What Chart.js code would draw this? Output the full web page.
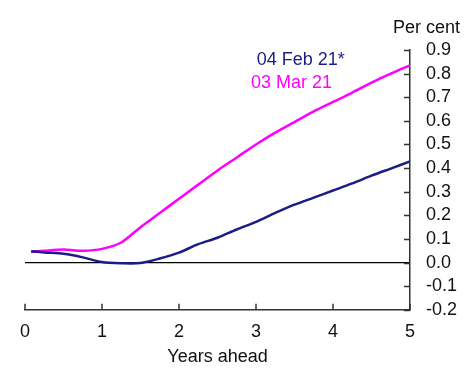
<!DOCTYPE html>
<html>
<head>
<meta charset="utf-8">
<script src="https://cdn.jsdelivr.net/npm/chart.js@4/dist/chart.umd.min.js"></script>
<style>
  html, body { margin: 0; padding: 0; background: #fff; }
  #wrap { width: 465px; height: 369px; }
</style>
</head>
<body>
<div id="wrap"><canvas id="curveChart" width="465" height="369"></canvas></div>
<script>
// anos à frente
const years = [0.08, 0.25, 0.5, 0.75, 1.0, 1.25, 1.5, 1.75, 2.0, 2.25, 2.5, 2.75, 3.0, 3.25, 3.5, 3.75, 4.0, 4.25, 4.5, 4.75, 5.0];
const feb21 = [0.048, 0.043, 0.037, 0.022, 0.002, -0.003, -0.002, 0.017, 0.042, 0.078, 0.105, 0.14, 0.172, 0.21, 0.245, 0.275, 0.305, 0.335, 0.368, 0.398, 0.428];
const mar21 = [0.045, 0.05, 0.055, 0.05, 0.058, 0.085, 0.15, 0.21, 0.27, 0.33, 0.39, 0.445, 0.5, 0.55, 0.595, 0.64, 0.68, 0.72, 0.762, 0.8, 0.835];
const seriesLabels = ['04 Feb 21*', '03 Mar 21'];
const yTicks = [-0.2, -0.1, 0.0, 0.1, 0.2, 0.3, 0.4, 0.5, 0.6, 0.7, 0.8, 0.9];
const xTicks = [0, 1, 2, 3, 4, 5];

const FONT = 'Liberation Sans, Arial, sans-serif';
const NAVY = '#1c1c86';
const MAGENTA = '#ff00ff';

const toPoints = (vals) => vals.map((v, i) => ({ x: years[i], y: v }));

// marcas dos eixos viradas para dentro + rótulos das séries
const extras = {
  id: 'extras',
  afterDraw(chart) {
    const { ctx, chartArea, scales } = chart;
    const x = scales.x, y = scales.y;
    ctx.save();
    ctx.strokeStyle = '#333';
    ctx.lineWidth = 1.5;
    yTicks.forEach((v) => {
      const py = Math.round(y.getPixelForValue(v)) + 0.5;
      ctx.beginPath();
      ctx.moveTo(chartArea.right - 6, py);
      ctx.lineTo(chartArea.right, py);
      ctx.stroke();
    });
    xTicks.forEach((v) => {
      const px = Math.round(x.getPixelForValue(v));
      ctx.beginPath();
      ctx.moveTo(px, chartArea.bottom - 6);
      ctx.lineTo(px, chartArea.bottom);
      ctx.stroke();
    });

    ctx.font = '18px ' + FONT;
    ctx.textAlign = 'center';
    ctx.textBaseline = 'middle';
    ctx.fillStyle = NAVY;
    ctx.fillText(seriesLabels[0], x.getPixelForValue(3.58), y.getPixelForValue(0.858));
    ctx.fillStyle = MAGENTA;
    ctx.fillText(seriesLabels[1], x.getPixelForValue(3.46), y.getPixelForValue(0.76));

    ctx.fillStyle = '#111';
    ctx.textAlign = 'right';
    ctx.fillText('Per cent', 460, 28);
    ctx.restore();
  }
};

const ctx = document.getElementById('curveChart').getContext('2d');
new Chart(ctx, {
  type: 'line',
  data: {
    datasets: [
      {
        label: seriesLabels[0],
        data: toPoints(feb21),
        borderColor: NAVY,
        borderWidth: 2.5,
        pointRadius: 0,
        tension: 0.3,
        fill: false,
      },
      {
        label: seriesLabels[1],
        data: toPoints(mar21),
        borderColor: MAGENTA,
        borderWidth: 2.5,
        pointRadius: 0,
        tension: 0.3,
        fill: false,
      },
    ],
  },
  options: {
    responsive: false,
    animation: false,
    devicePixelRatio: 1,
    layout: { padding: { top: 50, left: 25, right: 0, bottom: 1 } },
    plugins: {
      legend: { display: false },
      tooltip: { enabled: false },
    },
    scales: {
      x: {
        type: 'linear',
        position: 'bottom',
        min: 0,
        max: 5,
        afterBuildTicks: (s) => { s.ticks = xTicks.map((v) => ({ value: v })); },
        ticks: { color: '#111', font: { family: FONT, size: 18 }, padding: 11, maxRotation: 0, autoSkip: false },
        grid: { display: false, drawTicks: false },
        border: { display: true, color: '#333', width: 1.5 },
        title: { display: true, text: 'Years ahead', color: '#111', font: { family: FONT, size: 18 }, padding: { top: -7, bottom: 0 } },
      },
      y: {
        position: 'right',
        min: -0.2,
        max: 0.9,
        afterBuildTicks: (s) => { s.ticks = yTicks.map((v) => ({ value: v })); },
        afterFit: (s) => { s.width = 55; },
        ticks: {
          color: '#111',
          font: { family: FONT, size: 18 },
          padding: 16,
          autoSkip: false,
          callback: (v) => (Math.abs(v) < 1e-9 ? '0.0' : Number(v).toFixed(1)),
        },
        grid: {
          drawTicks: false,
          color: (c) => (c.tick && Math.abs(c.tick.value) < 1e-9 ? '#000' : 'rgba(0,0,0,0)'),
          lineWidth: 1.2,
        },
        border: { display: true, color: '#333', width: 1.5 },
      },
    },
  },
  plugins: [extras],
});
</script>
</body>
</html>
